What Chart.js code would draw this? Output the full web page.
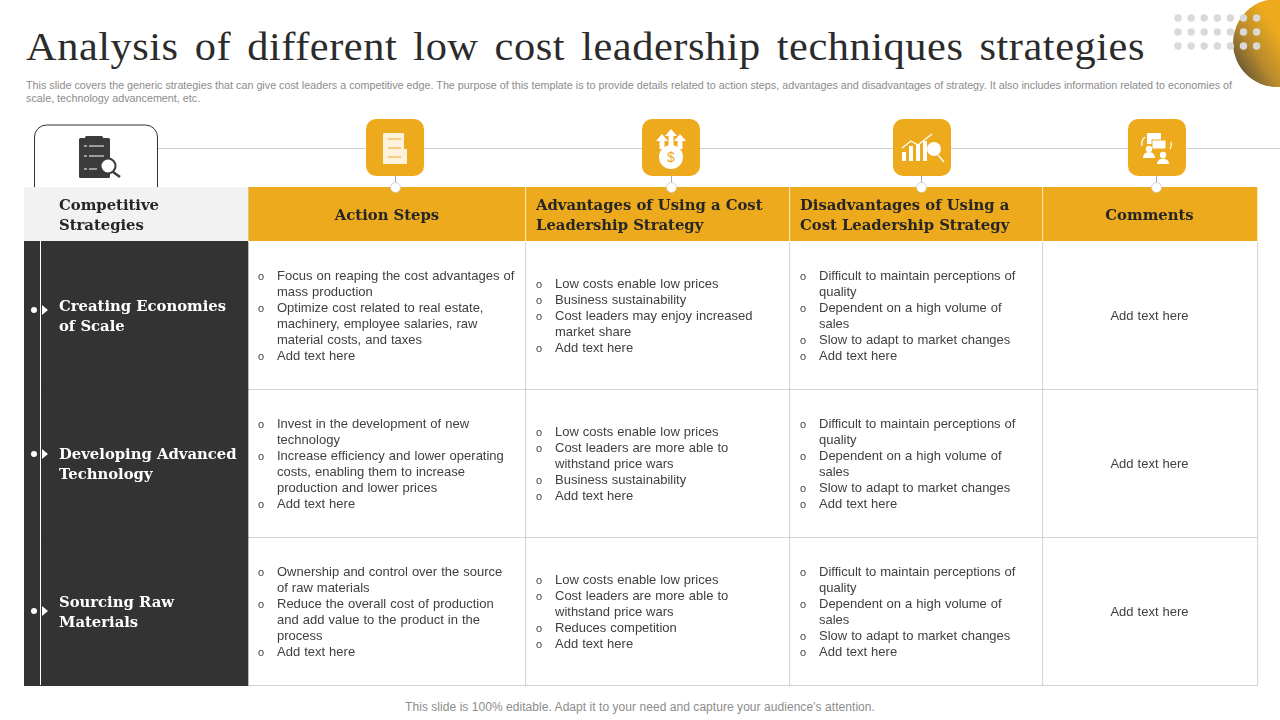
<!DOCTYPE html>
<html>
<head>
<meta charset="utf-8">
<title>Low cost leadership techniques</title>
<script src="https://cdn.jsdelivr.net/npm/chart.js@4"></script>
<style>
    html, body { margin: 0; padding: 0; background: #fff; }
    #page { position: relative; width: 1280px; height: 720px; overflow: hidden; font-family: "Liberation Sans", sans-serif; }
    #page > * { position: absolute; }
    #title { left: 26px; top: 25px; font: 40px/44px "Liberation Serif", serif; letter-spacing: 0.5px; word-spacing: 4.7px; color: #2b2b2b; white-space: nowrap; transform: scaleX(1.06); transform-origin: left top; }
    #intro { left: 26px; top: 79px; width: 1240px; font-size: 10.77px; line-height: 13px; color: #8c8c8c; white-space: pre; }
    #footer { left: 0; width: 1280px; top: 700px; text-align: center; font-size: 12px; line-height: 14px; letter-spacing: 0.05px; color: #8c8c8c; }
    #headerChart { left: 24px; top: 187px; }
    #bodyChart { left: 24px; top: 241px; background: linear-gradient(to right, #333 224px, transparent 224px); }
    #labels { left: 0; top: 0; width: 1280px; height: 720px; }
    .head { font: bold 14.8px/20px "DejaVu Serif", serif; color: #262626; white-space: pre; transform: translateY(calc(-50% + 0.5px)); }
    .center { text-align: center; transform: translate(-50%, calc(-50% + 0.5px)); }
    .head.rowLabel { color: #fff; transform: translateY(calc(-50% - 0.5px)); }
    .cell { font-size: 13px; line-height: 16px; word-spacing: 0.4px; color: #404040; transform: translateY(calc(-50% - 0.5px)); }
    .cell div { position: relative; padding-left: 29px; white-space: pre; }
    .cell i { position: absolute; left: 10px; top: 0; font-style: normal; font-size: 11px; }
    .note { font-size: 13px; line-height: 16px; word-spacing: 0.4px; color: #404040; white-space: nowrap; transform: translate(-50%, calc(-50% - 0.5px)); }
</style>
</head>
<body>
<div id="page">
    <div id="title"></div>
    <div id="intro"></div>
    <div id="footer"></div>

    <svg width="1280" height="720" style="left:0;top:0">
        <defs>
            <linearGradient id="ballFill" x1="0" y1="0.8" x2="0.55" y2="0.45">
                <stop offset="0" stop-color="#5a4f36"/>
                <stop offset="0.5" stop-color="#b98b2c"/>
                <stop offset="1" stop-color="#edaa1d"/>
            </linearGradient>
        </defs>
        <circle cx="1277" cy="43" r="44" fill="url(#ballFill)"/>
        <g id="dots" fill="#d9d9d9"></g>
        <line x1="158" y1="148.5" x2="1280" y2="148.5" stroke="#cfcfcf"/>
        <path d="M34.5 187V137a12 12 0 0 1 12-12h99a12 12 0 0 1 12 12V187" fill="#fff" stroke="#333"/>

        <!-- clipboard -->
        <g fill="#3b3b3b">
            <rect x="79" y="138" width="31" height="40" rx="1.5"/>
            <rect x="85" y="136" width="18" height="5" rx="1.5"/>
            <circle cx="108" cy="166" r="7.5" fill="#fff" stroke="#3b3b3b" stroke-width="2"/>
            <line x1="113" y1="172" x2="120" y2="177" stroke="#3b3b3b" stroke-width="2.5"/>
        </g>
        <g stroke="#fff" stroke-width="1" fill="none">
            <path d="M84 146h3M89 146h15M84 156h3M89 156h15M84 169h3M89 169h8"/>
        </g>

        <g id="boxes" fill="#edaa1d"></g>

        <!-- action steps -->
        <g fill="#fdf3dc">
            <rect x="383" y="133" width="21" height="31" rx="1"/>
            <rect x="404" y="149" width="3" height="15"/>
        </g>
        <path d="M388 139h13M388 148h13M388 157h13" stroke="#edaa1d"/>

        <!-- advantages -->
        <g fill="#fff">
            <circle cx="671" cy="157" r="12"/>
            <path d="M671 129l6 7h-3.5v12h-5v-12h-3.5zM662 134l6 7h-3.5v8h-5v-8h-3.5zM680 134l6 7h-3.5v8h-5v-8h-3.5z"/>
        </g>
        <text x="671" y="162" text-anchor="middle" font-size="14" fill="#edaa1d">$</text>

        <!-- disadvantages -->
        <g fill="#fff">
            <rect x="902" y="152" width="4" height="9"/>
            <rect x="909" y="146" width="4" height="15"/>
            <rect x="916" y="144" width="4" height="17"/>
            <rect x="923" y="141" width="4" height="20"/>
            <circle cx="934" cy="149" r="7"/>
        </g>
        <path d="M902 148l9-7 7 4 14-11M938 155l6 7" stroke="#fff" stroke-width="1.3" fill="none"/>

        <!-- comments -->
        <g fill="#fff">
            <rect x="1147" y="133" width="14" height="11"/>
            <rect x="1152" y="140" width="14" height="9" stroke="#edaa1d"/>
            <circle cx="1149" cy="149" r="3.2"/>
            <path d="M1143 158c0-8 12-8 12 0z"/>
            <circle cx="1163" cy="155" r="3.2"/>
            <path d="M1157 164c0-7 12-7 12 0z"/>
        </g>
        <path d="M1142 146a9 9 0 0 1 3-9M1171 142a9 9 0 0 1-1 7" stroke="#fff" stroke-width="1.2" fill="none"/>
    </svg>

    <canvas id="headerChart" width="1235" height="54"></canvas>
    <canvas id="bodyChart" width="1235" height="445"></canvas>

    <svg width="1280" height="720" style="left:0;top:0;pointer-events:none">
        <line x1="40.5" y1="241" x2="40.5" y2="685" stroke="#fff"/>
        <g id="markers" fill="#fff"></g>
        <g id="connectors"></g>
    </svg>

    <div id="labels"></div>
</div>

<script>
// --------------------------------------
// 1. Table content
// --------------------------------------
const titleText = "Analysis of different low cost leadership techniques strategies";
const introText = "This slide covers the generic strategies that can give cost leaders a competitive edge. The purpose of this template is to provide details related to action steps, advantages and disadvantages of strategy. It also includes information related to economies of\nscale, technology advancement, etc.";
const footerText = "This slide is 100% editable. Adapt it to your need and capture your audience\u2019s attention.";

const columnHeads = ["Competitive\nStrategies", "Action Steps", "Advantages of Using a Cost\nLeadership Strategy", "Disadvantages of Using a\nCost Leadership Strategy", "Comments"];
const columnWidths = [224, 278, 264, 253, 215];
const rowLabels = ["Creating Economies\nof Scale", "Developing Advanced\nTechnology", "Sourcing Raw\nMaterials"];

const actionSteps = [
    ["Focus on reaping the cost advantages of\nmass production", "Optimize cost related to real estate,\nmachinery, employee salaries, raw\nmaterial costs, and taxes", "Add text here"],
    ["Invest in the development of new\ntechnology", "Increase efficiency and lower operating\ncosts, enabling them to increase\nproduction and lower prices", "Add text here"],
    ["Ownership and control over the source\nof raw materials", "Reduce the overall cost of production\nand add value to the product in the\nprocess", "Add text here"]
];
const advantages = [
    ["Low costs enable low prices", "Business sustainability", "Cost leaders may enjoy increased\nmarket share", "Add text here"],
    ["Low costs enable low prices", "Cost leaders are more able to\nwithstand price wars", "Business sustainability", "Add text here"],
    ["Low costs enable low prices", "Cost leaders are more able to\nwithstand price wars", "Reduces competition", "Add text here"]
];
const disadvantages = [
    ["Difficult to maintain perceptions of\nquality", "Dependent on a high volume of\nsales", "Slow to adapt to market changes", "Add text here"],
    ["Difficult to maintain perceptions of\nquality", "Dependent on a high volume of\nsales", "Slow to adapt to market changes", "Add text here"],
    ["Difficult to maintain perceptions of\nquality", "Dependent on a high volume of\nsales", "Slow to adapt to market changes", "Add text here"]
];
const comments = ["Add text here", "Add text here", "Add text here"];

// --------------------------------------
// 2. Charts
// --------------------------------------
const GOLD = "#edaa1d", DARK = "#333333", GRID = "#c4c4c4";

function tableChart(canvasId, categories, fills, borderColors, borderWidths, padding) {
    return new Chart(document.getElementById(canvasId), {
        type: "bar",
        data: {
            labels: categories,
            datasets: columnWidths.map((w, i) => ({
                label: columnHeads[i],
                data: categories.map(() => w),
                backgroundColor: fills[i],
                borderColor: borderColors[i],
                borderWidth: borderWidths[i],
                borderSkipped: false,
                barPercentage: 1,
                categoryPercentage: 1
            }))
        },
        options: {
            indexAxis: "y",
            responsive: false,
            animation: false,
            layout: { padding: padding },
            plugins: { legend: { display: false }, tooltip: { enabled: false } },
            scales: {
                x: { stacked: true, display: false, min: 0, max: 1235 },
                y: { stacked: true, display: false }
            }
        }
    });
}

const headerChart = tableChart("headerChart", ["Header"],
    ["#f2f2f2", GOLD, GOLD, GOLD, GOLD],
    ["#f2f2f2", "#fff", "#fff", "#fff", "#fff"],
    columnWidths.map((_, i) => ({ top: 0, left: 0, bottom: 0, right: i === 0 ? 0 : 1 })),
    0);

// one pixel of top padding keeps the three rows on whole pixels
const bodyChart = tableChart("bodyChart", rowLabels,
    [DARK, "#fff", "#fff", "#fff", "#fff"],
    [DARK, GRID, GRID, GRID, GRID],
    columnWidths.map((_, i) => ({ top: 0, left: 0, bottom: i === 0 ? 0 : 1, right: i === 0 ? 0 : 1 })),
    { top: 1 });

// --------------------------------------
// 3. Text, placed from the chart scales
// --------------------------------------
const labelsDiv = document.getElementById("labels");
const chartLeft = 24, headerTop = 187, bodyTop = 241;

function addLabel(className, left, top, text) {
    const el = document.createElement("div");
    el.className = className;
    el.style.position = "absolute";
    el.style.left = left + "px";
    el.style.top = top + "px";
    el.textContent = text;
    labelsDiv.appendChild(el);
    return el;
}

function addBullets(left, top, items) {
    const cell = addLabel("cell", left, top, "");
    items.forEach(text => {
        const row = document.createElement("div");
        row.innerHTML = "<i>o</i>";
        row.appendChild(document.createTextNode(text));
        cell.appendChild(row);
    });
}

function columnEdge(i) {
    const sum = columnWidths.slice(0, i).reduce((a, b) => a + b, 0);
    return chartLeft + bodyChart.scales.x.getPixelForValue(sum);
}

function drawLabels() {
    const headY = headerTop + headerChart.scales.y.getPixelForValue(0);
    addLabel("head", 59, headY, columnHeads[0]);
    addLabel("head center", (columnEdge(1) + columnEdge(2)) / 2, headY, columnHeads[1]);
    addLabel("head", columnEdge(2) + 10, headY, columnHeads[2]);
    addLabel("head", columnEdge(3) + 10, headY, columnHeads[3]);
    addLabel("head center", columnEdge(4) + 106.5, headY, columnHeads[4]);

    rowLabels.forEach((label, r) => {
        const y = bodyTop + bodyChart.scales.y.getPixelForValue(r);
        addLabel("head rowLabel", 59, y, label);
        addBullets(columnEdge(1), y, actionSteps[r]);
        addBullets(columnEdge(2), y, advantages[r]);
        addBullets(columnEdge(3), y, disadvantages[r]);
        addLabel("note", columnEdge(4) + 106.5, y, comments[r]);
    });
}

// --------------------------------------
// 4. Slide decoration
// --------------------------------------
function svgEl(parent, tag, attrs) {
    const el = document.createElementNS("http://www.w3.org/2000/svg", tag);
    Object.keys(attrs).forEach(k => el.setAttribute(k, attrs[k]));
    document.getElementById(parent).appendChild(el);
}

function drawDecoration() {
    for (let r = 0; r < 3; r++) {
        for (let c = 0; c < 7; c++) {
            svgEl("dots", "circle", { cx: 1178 + c * 13.1, cy: 18 + r * 14, r: 3.7 });
        }
    }
    [[366, 395], [642, 671], [893, 921], [1128, 1156]].forEach(([boxX, pinX]) => {
        svgEl("boxes", "rect", { x: boxX, y: 119, width: 58, height: 57, rx: 10 });
        svgEl("connectors", "line", { x1: pinX + 0.5, y1: 176, x2: pinX + 0.5, y2: 183, stroke: "#a8a8a8" });
        svgEl("connectors", "circle", { cx: pinX + 0.5, cy: 187.5, r: 5, fill: "#fff", stroke: "#c9c9c9", "stroke-width": 0.8 });
    });
    [310, 454, 611].forEach(y => {
        svgEl("markers", "circle", { cx: 34, cy: y, r: 3 });
        svgEl("markers", "path", { d: `M42 ${y - 5}l6 5l-6 5z` });
    });
}

document.getElementById("title").textContent = titleText;
document.getElementById("intro").textContent = introText;
document.getElementById("footer").textContent = footerText;
drawDecoration();
drawLabels();
</script>
</body>
</html>
